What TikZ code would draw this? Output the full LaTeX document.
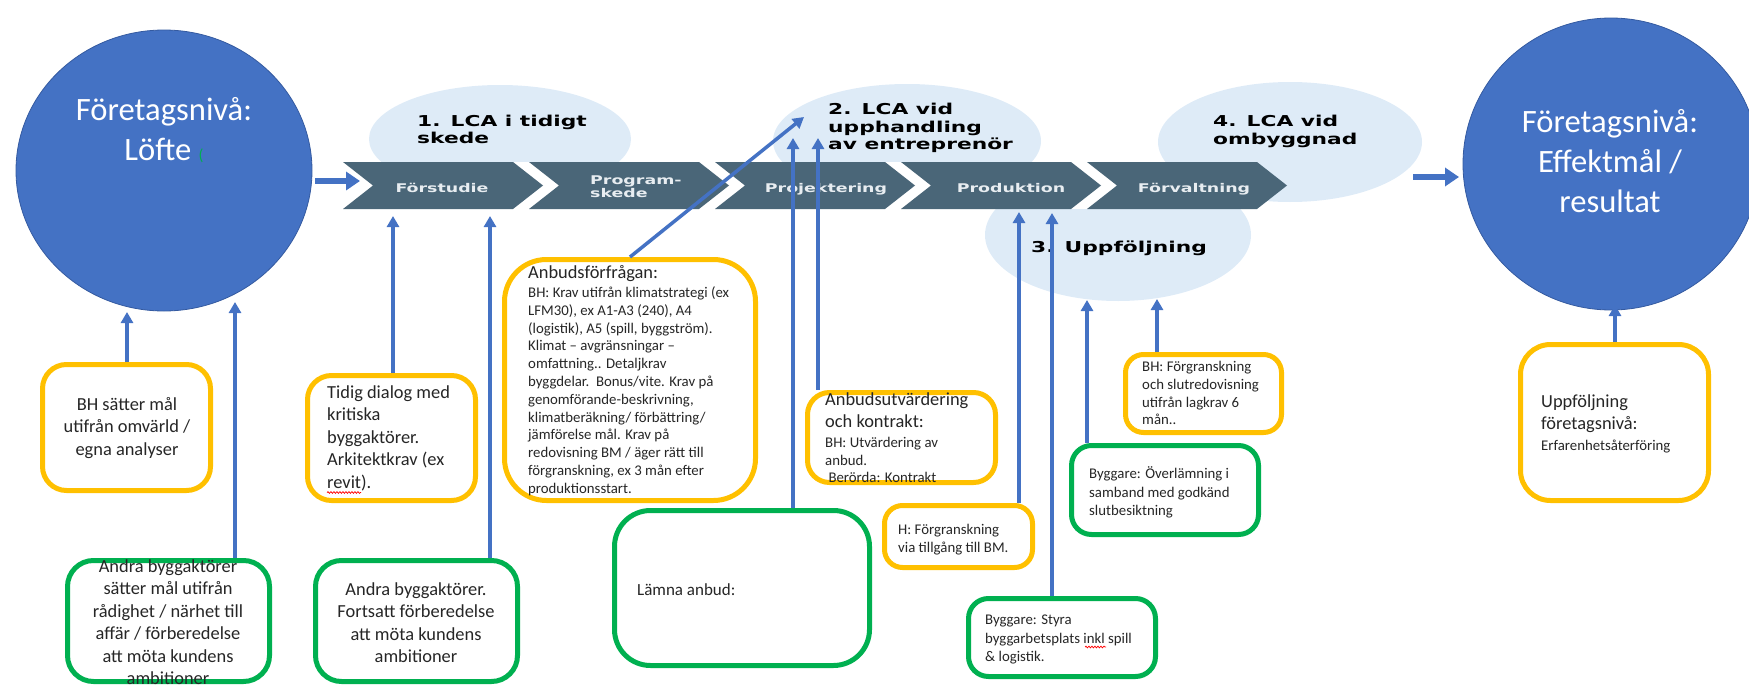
\documentclass[tikz,border=0pt]{standalone}
\usepackage{fontspec}
\setmainfont{Carlito}
\newfontfamily\chevfont{DejaVu Sans}[FakeStretch=1.45]
\usetikzlibrary{shapes.geometric,arrows.meta,decorations.pathmorphing}

\definecolor{offblue}{RGB}{68,114,196}
\definecolor{circedge}{RGB}{52,90,160}
\definecolor{slate}{RGB}{74,102,120}
\definecolor{paleblue}{RGB}{222,235,247}
\definecolor{boxorange}{RGB}{255,192,0}
\definecolor{boxgreen}{RGB}{0,176,80}
\definecolor{inktext}{RGB}{38,38,38}
\definecolor{chevtext}{RGB}{232,237,241}

\begin{document}
\begin{tikzpicture}[x=1pt,y=-1pt,
  obox/.style={draw=boxorange,line width=5pt,fill=white,rounded corners=#1,inner sep=0pt},
  obox/.default=20pt,
  gbox/.style={draw=boxgreen,line width=5pt,fill=white,rounded corners=#1,inner sep=0pt},
  gbox/.default=22pt,
  lcaell/.style={ellipse,fill=paleblue,inner sep=0pt},
  firm/.style={ellipse,fill=offblue,draw=circedge,line width=0.8pt,inner sep=0pt},
  chev/.style={fill=slate},
  arr/.style={draw=offblue,line width=3.5pt,-{Triangle[length=11pt,width=12pt]}},
  bigarr/.style={draw=offblue,line width=6pt,-{Triangle[length=14pt,width=18pt]}},
  firmtxt/.style={inner sep=0pt,align=center,text=white,font=\fontsize{32.6}{40}\selectfont},
  lcatxt/.style={inner sep=0pt,align=left,text=black,font=\chevfont\bfseries\fontsize{15}{17.5}\selectfont},
  chevtxt/.style={inner sep=0pt,align=left,text=chevtext,font=\chevfont\bfseries\fontsize{12}{13}\selectfont},
  bigtxt/.style={inner sep=0pt,text=inktext,font=\fontsize{18.4}{22.4}\selectfont},
  smalltxt/.style={inner sep=0pt,align=left,text=inktext,font=\fontsize{14.8}{18}\selectfont},
  spell/.style={draw=red,line width=0.7pt,decorate,decoration={snake,amplitude=0.9pt,segment length=3pt}}
]
\useasboundingbox (0,0) rectangle (1749,688);

% phase bubbles behind the process band
\node[lcaell,minimum width=262pt,minimum height=108pt] (ell1) at (500,139) {};
\node[lcaell,minimum width=268pt,minimum height=114pt] (ell2) at (907,141) {};
\node[lcaell,minimum width=264pt,minimum height=120pt] (ell4) at (1290,142) {};
\node[lcaell,minimum width=266pt,minimum height=132pt] (ell3) at (1118,235) {};

% process band: white backing and five chevrons
\fill[white] (343,162) rectangle (1257,209);
\foreach \L in {343,529,715,901,1087}
  \fill[chev] (\L,162) -- ++(170,0) -- ++(30,23.5) -- ++(-30,23.5) -- ++(-170,0) -- ++(30,-23.5) -- cycle;

% multi-line nodes below are placed by the baseline of their last line
\node[chevtxt,anchor=base] (ph1) at (442,192) {Förstudie};
\node[chevtxt,anchor=base west] (ph2) at (590,197.5) {Program-\\skede};
\node[chevtxt,anchor=base] (ph3) at (826,192) {Projektering};
\node[chevtxt,anchor=base] (ph4) at (1011,192) {Produktion};
\node[chevtxt,anchor=base] (ph5) at (1194,192) {Förvaltning};

% bubble labels
\node[lcatxt,anchor=base west] (lab1) at (417,143.5) {1. LCA i tidigt\\skede};
\node[lcatxt,anchor=base west] (lab2) at (828,149.5) {2. LCA vid\\upphandling\\av entreprenör};
\node[lcatxt,anchor=base west] (lab3) at (1031,252.5) {3. Uppföljning};
\node[lcatxt,anchor=base west] (lab4) at (1213,144) {4. LCA vid\\ombyggnad};

% company level circles
\node[firm,minimum width=296pt,minimum height=281pt] (firmL) at (164,170.5) {};
\node[firmtxt,anchor=base] (firmLt) at (164,160) {Företagsnivå:\\Löfte {\color{boxgreen}\fontsize{16}{16}\selectfont(}};
\node[firm,minimum width=296pt,minimum height=292pt] (firmR) at (1611,164) {};
\node[firmtxt,anchor=base] (firmRt) at (1610,212) {Företagsnivå:\\Effektmål /\\resultat};

% band entry and exit arrows
\coordinate (inS) at (315,181);
\coordinate (inE) at (360,181);
\coordinate (outS) at (1413,177);
\coordinate (outE) at (1459,177);
\draw[bigarr] (inS) -- (inE);
\draw[bigarr] (outS) -- (outE);

% boxes
\node[obox=24pt,minimum width=168pt,minimum height=126pt] (bxa) at (126.5,427.5) {};
\node[bigtxt,align=center,anchor=base] (txa) at (127,455.3) {BH sätter mål\\utifrån omvärld /\\egna analyser};

\node[gbox=26pt,minimum width=202pt,minimum height=121pt] (bxb) at (168.5,621) {};
\node[bigtxt,align=center,anchor=base] (txb) at (168,684.5) {Andra byggaktörer\\sätter mål utifrån\\rådighet / närhet till\\affär / förberedelse\\att möta kundens\\ambitioner};

\node[obox=24pt,minimum width=168pt,minimum height=125pt] (bxc) at (391.5,438) {};
\node[bigtxt,align=left,anchor=base west] (txc) at (327,488.1) {Tidig dialog med\\kritiska\\byggaktörer.\\Arkitektkrav (ex\\revit).};
\draw[spell] (327,492.5) -- (361,492.5);

\node[gbox=26pt,minimum width=202pt,minimum height=121pt] (bxd) at (416.5,621) {};
\node[bigtxt,align=center,anchor=base] (txd) at (416,662.7) {Andra byggaktörer.\\Fortsatt förberedelse\\att möta kundens\\ambitioner};

\node[obox=42pt,minimum width=251pt,minimum height=241pt] (bxe) at (630,380) {};
\node[bigtxt,anchor=base west] (txe) at (528,278.5) {Anbudsförfrågan:};
\node[smalltxt,font=\fontsize{14.8}{17.8}\selectfont,anchor=base west] (txe2) at (528,493.3) {BH: Krav utifrån klimatstrategi (ex\\LFM30), ex A1-A3 (240), A4\\(logistik), A5 (spill, byggström).\\Klimat – avgränsningar –\\omfattning.. Detaljkrav\\byggdelar.\ \ Bonus/vite. Krav på\\genomförande-beskrivning,\\klimatberäkning/ förbättring/\\jämförelse mål. Krav på\\redovisning BM / äger rätt till\\förgranskning, ex 3 mån efter\\produktionsstart.};

\node[gbox=36pt,minimum width=255pt,minimum height=155pt] (bxf) at (742,588) {};
\node[bigtxt,font=\fontsize{17}{20}\selectfont,anchor=base west] (txf) at (637,595) {Lämna anbud:};

\node[obox=22pt,minimum width=188pt,minimum height=90pt] (bxg) at (901.5,437.5) {};
\node[bigtxt,align=left,font=\fontsize{18.4}{22}\selectfont,anchor=base west] (txg) at (825,427.5) {Anbudsutvärdering\\och kontrakt:};
\node[smalltxt,font=\fontsize{14.8}{17.5}\selectfont,anchor=base west] (txg2) at (825,482.5) {BH: Utvärdering av\\anbud.\\\ Berörda: Kontrakt};

\node[obox=18pt,minimum width=148pt,minimum height=62pt] (bxh) at (958.5,536.5) {};
\node[smalltxt,anchor=base west] (txh) at (898,552.5) {H: Förgranskning\\via tillgång till BM.};

\node[gbox=20pt,minimum width=187pt,minimum height=78pt] (bxi) at (1062,637.5) {};
\node[smalltxt,font=\fontsize{14.8}{18.5}\selectfont,anchor=base west] (txi) at (985,661.5) {Byggare: Styra\\byggarbetsplats inkl spill\\\& logistik.};
\draw[spell] (1085,647) -- (1106,647);

\node[gbox=20pt,minimum width=187pt,minimum height=89pt] (bxj) at (1165,490) {};
\node[smalltxt,font=\fontsize{14.8}{18.5}\selectfont,anchor=base west] (txj) at (1089,515.5) {Byggare: Överlämning i\\samband med godkänd\\slutbesiktning};

\node[obox=18pt,minimum width=156pt,minimum height=78pt] (bxk) at (1203.5,393.5) {};
\node[smalltxt,font=\fontsize{14.8}{17.8}\selectfont,anchor=base west] (txk) at (1142,424.9) {BH: Förgranskning\\och slutredovisning\\utifrån lagkrav 6\\mån..};

\node[obox=30pt,minimum width=188pt,minimum height=156pt] (bxl) at (1614.5,422.5) {};
\node[bigtxt,align=left,font=\fontsize{18.4}{22}\selectfont,anchor=base west] (txl) at (1541,429.5) {Uppföljning\\företagsnivå:};
\node[smalltxt,anchor=base west] (txl2) at (1541,450.5) {Erfarenhetsåterföring};

% arrow targets
\coordinate (p1) at (127,312);
\coordinate (p2) at (235,302);
\coordinate (p3) at (393,216);
\coordinate (p4) at (490,216);
\coordinate (p5) at (804,117);
\coordinate (p6) at (793,138);
\coordinate (p7) at (818,138);
\coordinate (p8) at (1019,212);
\coordinate (p9) at (1052,213);
\coordinate (p10) at (1087,300);
\coordinate (p11) at (1157,299);
\coordinate (p12) at (1615,305);

\draw[arr] (bxa.north -| p1) -- (p1);
\draw[arr] (bxb.north -| p2) -- (p2);
\draw[arr] (bxc.north -| p3) -- (p3);
\draw[arr] (bxd.north -| p4) -- (p4);
\draw[arr] (bxe.north) -- (p5);
\draw[arr] (bxf.north -| p6) -- (p6);
\draw[arr] (bxg.north -| p7) -- (p7);
\draw[arr] (bxh.north -| p8) -- (p8);
\draw[arr] (bxi.north -| p9) -- (p9);
\draw[arr] (bxj.north -| p10) -- (p10);
\draw[arr] (bxk.north -| p11) -- (p11);
\draw[arr] (bxl.north -| p12) -- (p12);
\end{tikzpicture}
\end{document}
